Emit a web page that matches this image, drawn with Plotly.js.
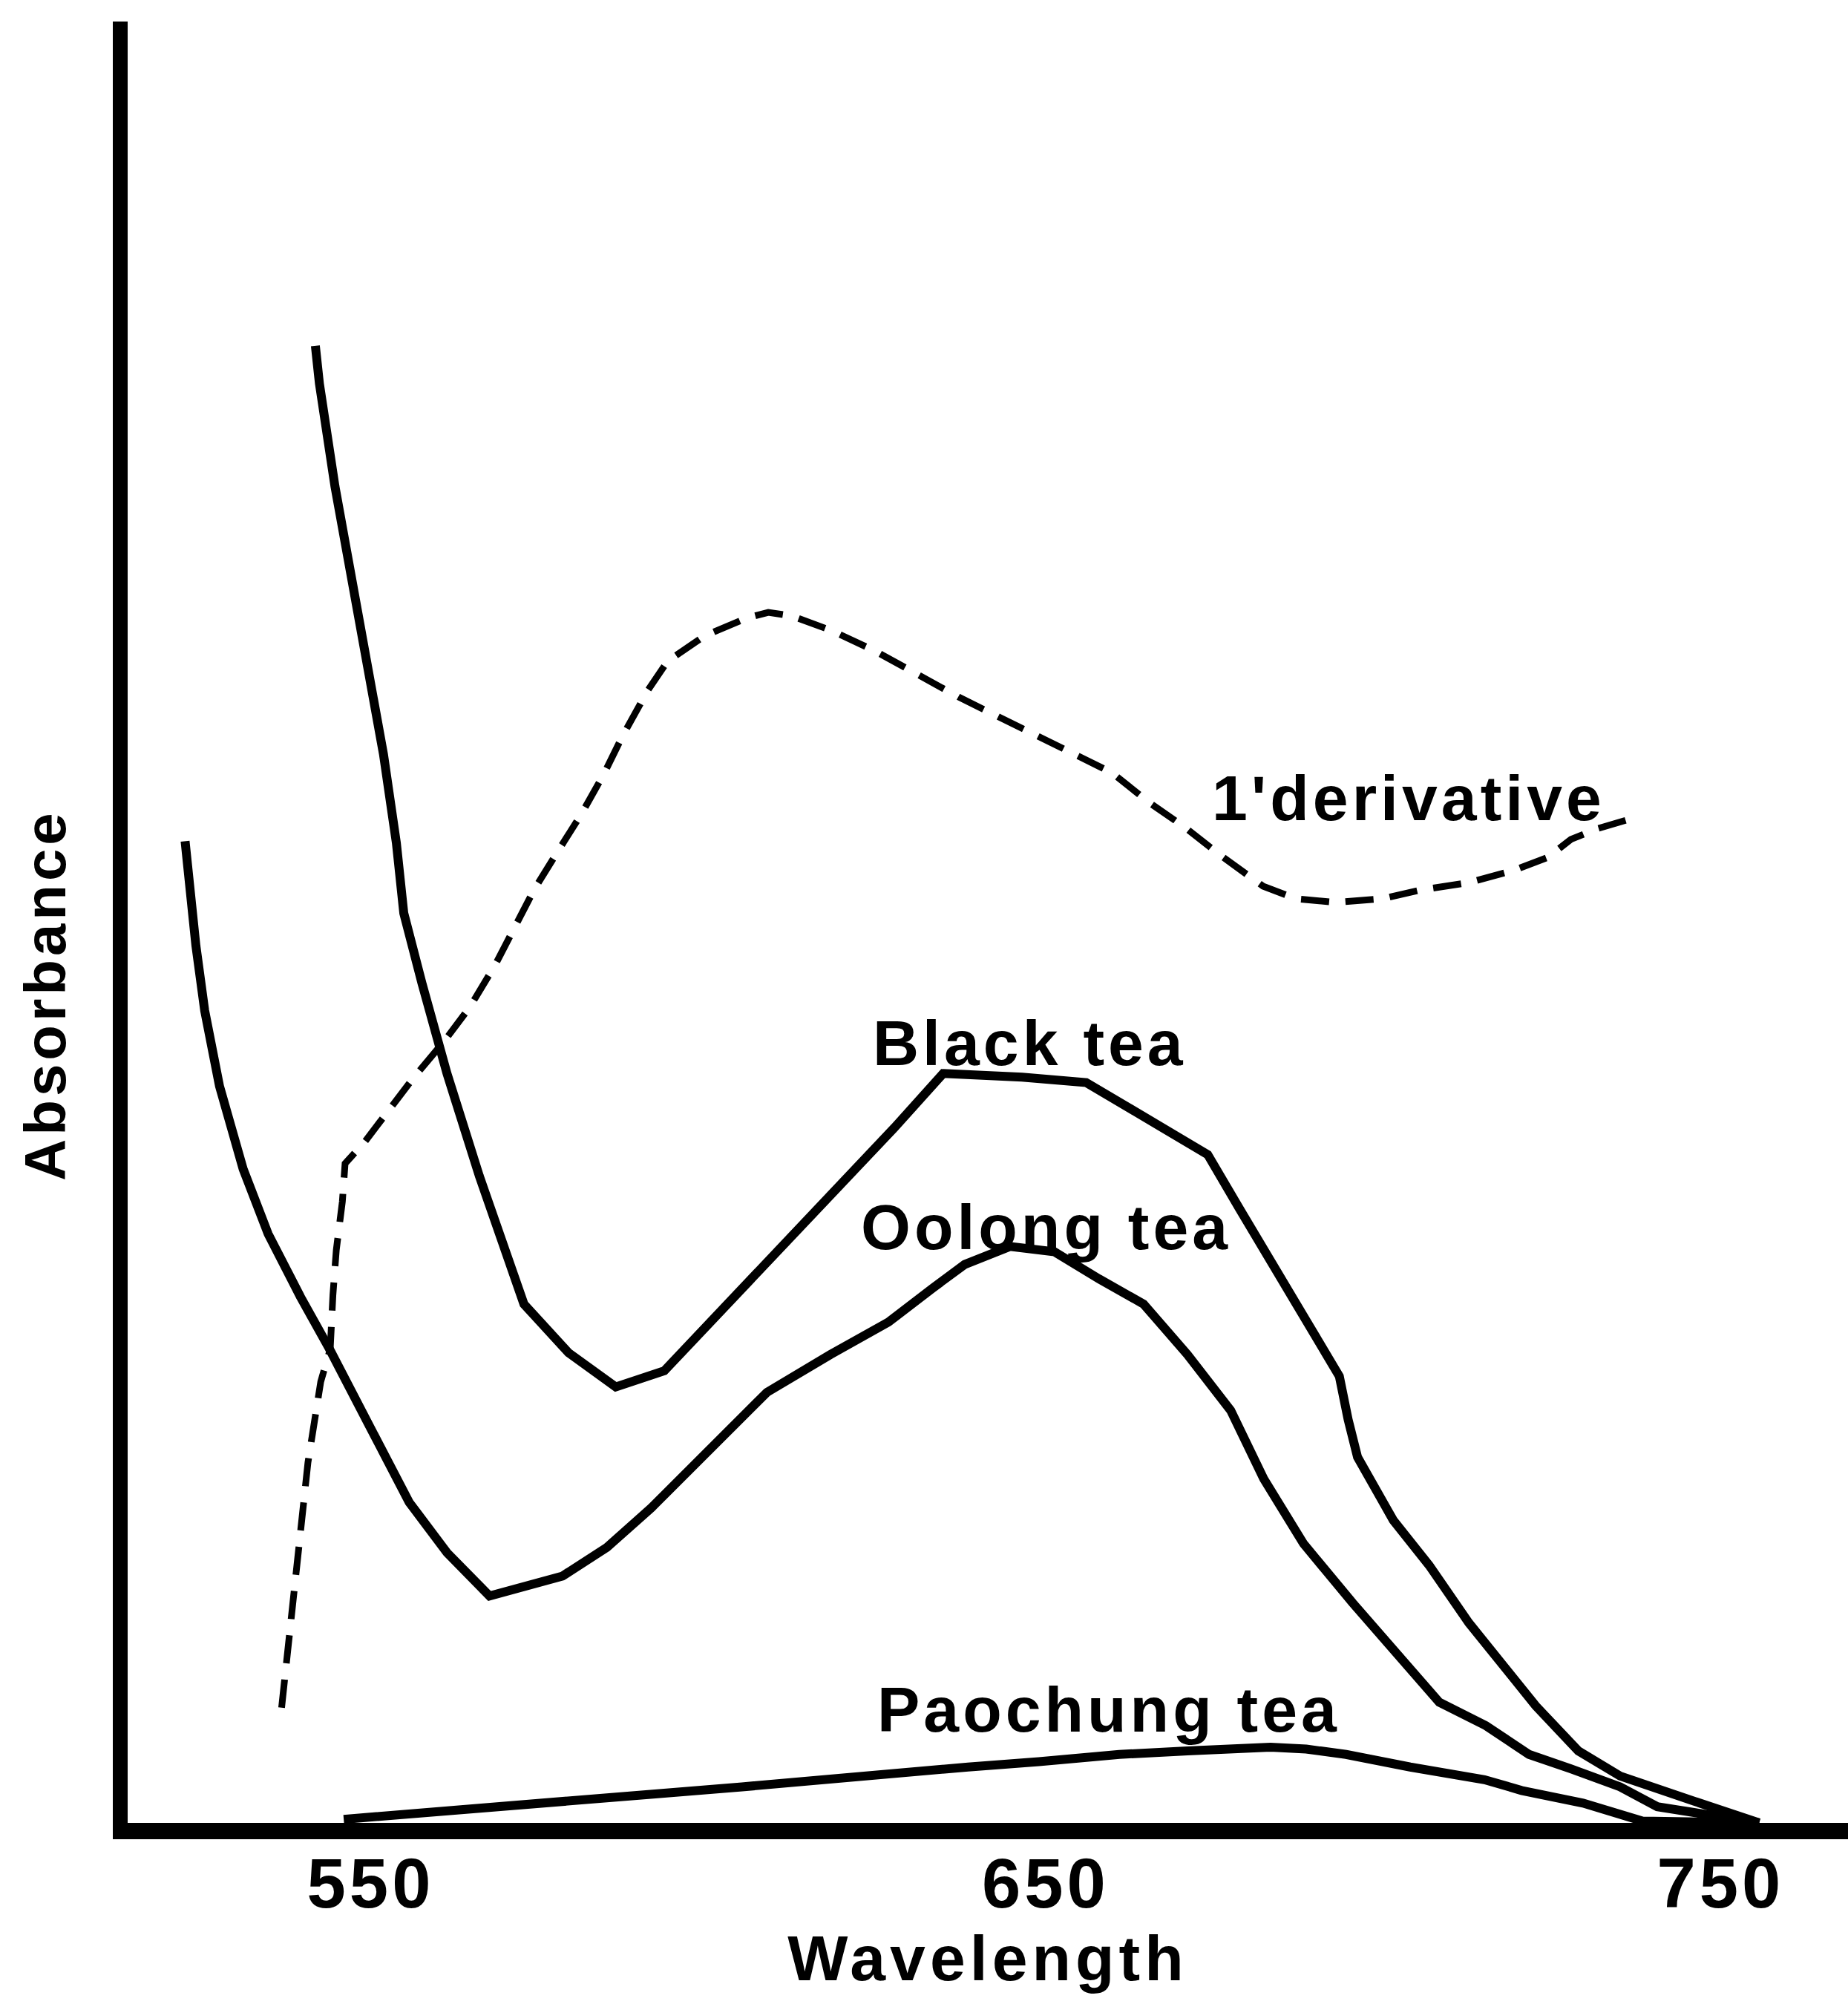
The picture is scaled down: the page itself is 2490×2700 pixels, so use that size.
<!DOCTYPE html>
<html><head><meta charset="utf-8">
<script src="https://cdn.plot.ly/plotly-3.0.1.min.js"></script>
<style>
html,body{margin:0;padding:0;background:#fff;}
#chart{width:2490px;height:2700px;}
.annotation-text{letter-spacing:5px;}
.xtick text{letter-spacing:5px;}
.xtitle{letter-spacing:6px;}
</style></head><body><div id="chart"></div><script>
// Wavelength (nm) and absorbance (arbitrary units)
const blackWl = [541.8,542.4,544.7,547.5,550.0,551.9,553.8,554.9,557.6,561.3,566.1,569.9,572.7,579.3,586.3,593.5,601.1,608.7,616.3,627.6,634.8,646.5,656.0,661.7,674.0,678.7,684.4,690.1,693.5,694.8,696.2,701.5,706.8,712.7,722.6,728.9,735.1,746.1,755.7];
const blackAbs = [0.820,0.799,0.742,0.686,0.636,0.593,0.544,0.505,0.466,0.416,0.359,0.320,0.288,0.261,0.242,0.251,0.281,0.311,0.341,0.386,0.416,0.414,0.411,0.398,0.371,0.341,0.306,0.270,0.248,0.224,0.203,0.168,0.143,0.111,0.065,0.040,0.026,0.012,0.000];

const oolongWl = [522.5,523.1,524.1,525.4,527.6,531.1,534.8,539.6,543.9,550.0,555.7,561.3,567.6,578.4,585.0,591.6,600.2,608.7,618.1,626.7,633.3,638.0,644.7,651.3,657.9,664.5,671.0,677.4,682.3,688.2,695.5,702.9,708.3,715.2,721.6,727.8,735.1,740.6,755.7];
const oolongAbs = [0.545,0.522,0.487,0.451,0.409,0.363,0.327,0.292,0.263,0.219,0.178,0.150,0.126,0.137,0.153,0.175,0.207,0.239,0.260,0.278,0.297,0.310,0.320,0.317,0.302,0.288,0.260,0.229,0.191,0.155,0.122,0.090,0.067,0.054,0.038,0.030,0.020,0.009,0.000];

const paochungWl = [546.0,561.1,572.0,591.8,605.0,616.0,627.0,638.5,649.0,660.9,671.0,683.3,688.6,694.5,704.0,715.0,720.5,729.6,738.4,755.7];
const paochungAbs = [0.002,0.007,0.010,0.016,0.020,0.024,0.028,0.031,0.034,0.038,0.040,0.042,0.041,0.038,0.031,0.024,0.018,0.011,0.001,0.000];

const derivWl = [536.8,538.2,539.4,540.7,542.6,544.0,544.4,544.9,545.8,546.2,549.1,552.0,556.2,560.9,564.7,568.4,574.2,577.5,581.2,584.5,587.4,591.1,594.0,599.5,605.8,608.9,612.4,618.2,624.5,637.1,648.5,659.8,665.5,670.5,676.3,682.2,687.1,693.0,699.8,705.7,712.7,719.5,724.4,727.8,731.8,737.2];
const derivAbs = [0.064,0.114,0.161,0.200,0.245,0.263,0.293,0.318,0.345,0.366,0.378,0.392,0.413,0.434,0.453,0.476,0.518,0.538,0.560,0.582,0.604,0.629,0.645,0.659,0.669,0.672,0.670,0.662,0.651,0.625,0.604,0.583,0.566,0.553,0.536,0.520,0.513,0.511,0.513,0.518,0.522,0.529,0.536,0.546,0.552,0.558];

const tickVals = [550, 650, 750];
const tickText = ['550', '650', '750'];

const labels = ['Black tea', 'Oolong tea', 'Paochung tea', "1'derivative"];
const labelWl = [647.6, 650.1, 659.3, 703.8];
const labelAbs = [0.433, 0.331, 0.063, 0.569];

const xTitle = 'Wavelength';
const yTitle = 'Absorbance';

const fontFam = 'Liberation Sans, Arial, Helvetica, sans-serif';
const solid = {color: '#000', width: 12, shape: 'linear'};

const traces = [
  {x: blackWl, y: blackAbs, name: 'Black tea', mode: 'lines', line: solid},
  {x: oolongWl, y: oolongAbs, name: 'Oolong tea', mode: 'lines', line: solid},
  {x: paochungWl, y: paochungAbs, name: 'Paochung tea', mode: 'lines', line: solid},
  {x: derivWl, y: derivAbs, name: "1'derivative", mode: 'lines', line: {color: '#000', width: 9, dash: '38px,22px'}}
];

const annotations = labels.map((t, i) => ({
  x: labelWl[i], y: labelAbs[i], xref: 'x', yref: 'y', text: t, showarrow: false,
  xanchor: 'center', yanchor: 'middle',
  font: {family: fontFam, size: 86, color: '#000', weight: 'bold'}
}));
// y-axis title, placed where the reference puts it (below the axis midpoint)
annotations.push({
  x: -0.0479, y: 0.4598, xref: 'paper', yref: 'paper', text: yTitle, showarrow: false,
  textangle: -90, xanchor: 'center', yanchor: 'middle',
  font: {family: fontFam, size: 78, color: '#000', weight: 'bold'}
});

const layout = {
  width: 2490, height: 2700,
  paper_bgcolor: '#fff', plot_bgcolor: '#fff',
  margin: {l: 172, r: 0, t: 29, b: 244, pad: 0},
  showlegend: false,
  hovermode: false,
  xaxis: {
    range: [513.99, 768.86],
    showline: true, linecolor: '#000', linewidth: 22,
    showgrid: false, zeroline: false, ticks: '',
    tickmode: 'array', tickvals: tickVals, ticktext: tickText,
    tickfont: {family: fontFam, size: 94, color: '#000', weight: 'bold'},
    ticklabelstandoff: -21,
    title: {text: xTitle, standoff: 18, font: {family: fontFam, size: 86, color: '#000', weight: 'bold'}},
    automargin: false, fixedrange: true
  },
  yaxis: {
    range: [0, 1],
    showline: true, linecolor: '#000', linewidth: 20,
    showgrid: false, zeroline: false, ticks: '', showticklabels: false,
    automargin: false, fixedrange: true
  },
  annotations: annotations
};

Plotly.newPlot('chart', traces, layout, {displayModeBar: false, staticPlot: true});
</script></body></html>
